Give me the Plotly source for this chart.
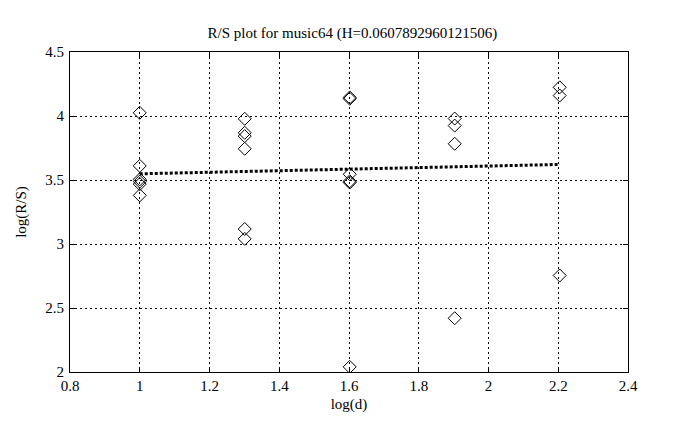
import numpy as np
import plotly.graph_objects as go

# log(d) for d = 10, 20, 40, 80, 160
log_d_groups = [1.0, 1.30103, 1.60206, 1.90309, 2.20412]
log_rs_groups = [
    [4.025, 3.61, 3.505, 3.488, 3.468, 3.38],
    [3.978, 3.869, 3.843, 3.744, 3.117, 3.04],
    [4.145, 4.135, 3.545, 3.49, 3.48, 2.04],
    [3.98, 3.925, 3.783, 2.42],
    [4.224, 4.16, 2.754],
]
H = 0.0607892960121506
intercept = 3.4875

xs, ys = [], []
for xv, vals in zip(log_d_groups, log_rs_groups):
    for v in vals:
        xs.append(xv)
        ys.append(v)

fit_x = [log_d_groups[0], log_d_groups[-1]]
fit_y = [intercept + H * x for x in fit_x]

fig = go.Figure()
fig.add_trace(go.Scatter(
    x=xs, y=ys, mode="markers",
    marker=dict(symbol="diamond-open", size=10, color="black", line=dict(width=1, color="black")),
    showlegend=False,
))
fig.add_trace(go.Scatter(
    x=fit_x, y=fit_y, mode="lines",
    line=dict(color="black", width=3, dash="3px,2px"),
    showlegend=False,
))

font = dict(family="Liberation Serif", size=15, color="black")
axis_common = dict(
    showline=True, linecolor="black", linewidth=1, mirror="ticks",
    ticks="inside", ticklen=5, tickcolor="black",
    showgrid=True, gridcolor="black", gridwidth=1, griddash="2px,3px",
    zeroline=False, tickfont=font,
)
fig.update_layout(
    width=686, height=430,
    margin=dict(l=62, r=66, t=44, b=66),
    paper_bgcolor="white", plot_bgcolor="white",
    title=dict(text="R/S plot for music64 (H=0.0607892960121506)", x=0.502, xanchor="center",
               y=1 - 25 / 430, yanchor="middle", font=font),
    xaxis=dict(range=[0.8, 2.4], tickvals=[0.8, 1, 1.2, 1.4, 1.6, 1.8, 2, 2.2, 2.4],
               ticktext=["0.8", "1", "1.2", "1.4", "1.6", "1.8", "2", "2.2", "2.4"],
               title=dict(text="log(d)", font=font, standoff=5), **axis_common),
    yaxis=dict(range=[2, 4.5], tickvals=[2, 2.5, 3, 3.5, 4, 4.5],
               ticktext=["2", "2.5", "3", "3.5", "4", "4.5"], ticklabelstandoff=2,
               title=dict(text="log(R/S)", font=font, standoff=15), **axis_common),
)
fig.write_html("out.html")
